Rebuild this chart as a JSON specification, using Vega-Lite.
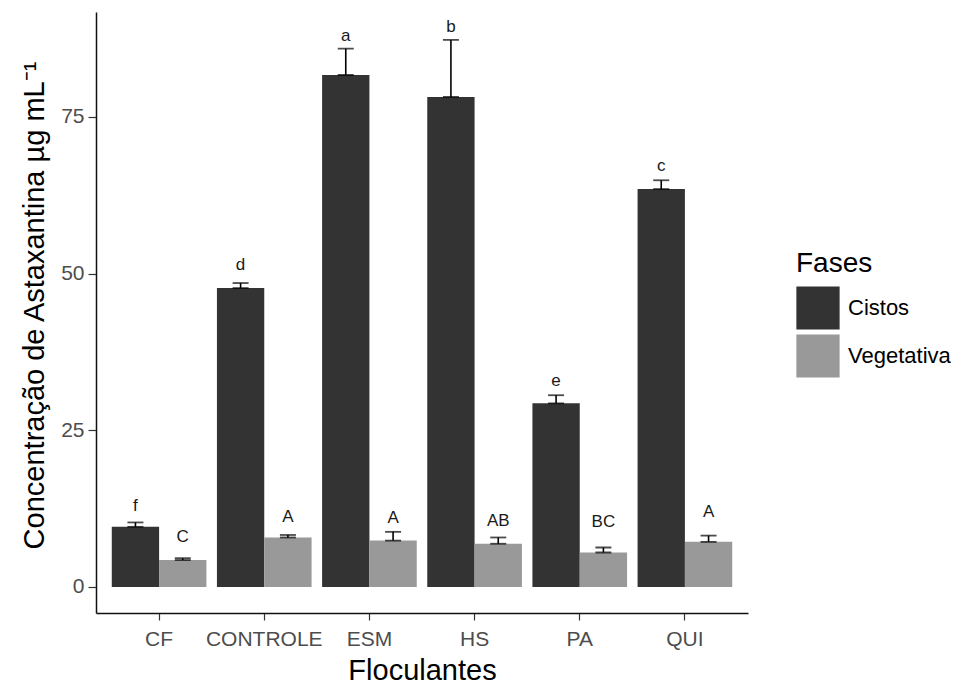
{
  "$schema": "https://vega.github.io/schema/vega-lite/v6.json",
  "width": 652,
  "height": 601,
  "autosize": {"type": "none"},
  "padding": {"left": 96, "top": 12, "right": 207, "bottom": 71},
  "background": "white",
  "config": {
    "view": {"stroke": null},
    "font": "Liberation Sans",
    "axis": {"grid": false, "labelFont": "Liberation Sans", "titleFont": "Liberation Sans"}
  },
  "data": {
    "values": [
      {"Floculante": "CF", "Fase": "Cistos", "Media": 9.6, "Topo": 10.3, "PosLetra": 12.1, "Letra": "f"},
      {"Floculante": "CF", "Fase": "Vegetativa", "Media": 4.3, "Topo": 4.6, "PosLetra": 7.1, "Letra": "C"},
      {"Floculante": "CONTROLE", "Fase": "Cistos", "Media": 47.7, "Topo": 48.5, "PosLetra": 50.6, "Letra": "d"},
      {"Floculante": "CONTROLE", "Fase": "Vegetativa", "Media": 7.9, "Topo": 8.3, "PosLetra": 10.4, "Letra": "A"},
      {"Floculante": "ESM", "Fase": "Cistos", "Media": 81.7, "Topo": 85.9, "PosLetra": 87.2, "Letra": "a"},
      {"Floculante": "ESM", "Fase": "Vegetativa", "Media": 7.4, "Topo": 8.8, "PosLetra": 10.2, "Letra": "A"},
      {"Floculante": "HS", "Fase": "Cistos", "Media": 78.2, "Topo": 87.3, "PosLetra": 88.6, "Letra": "b"},
      {"Floculante": "HS", "Fase": "Vegetativa", "Media": 6.9, "Topo": 7.9, "PosLetra": 9.8, "Letra": "AB"},
      {"Floculante": "PA", "Fase": "Cistos", "Media": 29.3, "Topo": 30.6, "PosLetra": 32.1, "Letra": "e"},
      {"Floculante": "PA", "Fase": "Vegetativa", "Media": 5.5, "Topo": 6.3, "PosLetra": 9.5, "Letra": "BC"},
      {"Floculante": "QUI", "Fase": "Cistos", "Media": 63.5, "Topo": 64.9, "PosLetra": 66.4, "Letra": "c"},
      {"Floculante": "QUI", "Fase": "Vegetativa", "Media": 7.2, "Topo": 8.2, "PosLetra": 11.2, "Letra": "A"}
    ]
  },
  "encoding": {
    "x": {
      "field": "Floculante",
      "type": "nominal",
      "sort": ["CF", "CONTROLE", "ESM", "HS", "PA", "QUI"],
      "scale": {"paddingInner": 0.1, "paddingOuter": 0.15},
      "title": "Floculantes",
      "axis": {
        "labelAngle": 0,
        "labelFontSize": 21,
        "labelColor": "#4D4D4D",
        "labelPadding": 8,
        "tickSize": 7,
        "tickColor": "#333333",
        "tickWidth": 1.2,
        "domainColor": "#111111",
        "domainWidth": 1.5,
        "titleFontSize": 29,
        "titleFontWeight": "normal",
        "titleColor": "#000000",
        "titleBaseline": "alphabetic",
        "titleY": 66
      }
    },
    "xOffset": {
      "field": "Fase",
      "type": "nominal",
      "sort": ["Cistos", "Vegetativa"],
      "scale": {"paddingInner": 0, "paddingOuter": 0}
    }
  },
  "layer": [
    {
      "mark": {"type": "bar"},
      "encoding": {
        "y": {
          "field": "Media",
          "type": "quantitative",
          "title": "Concentração de Astaxantina µg mL⁻¹",
          "scale": {"domain": [-4.15, 91.75], "nice": false, "zero": false},
          "axis": {
            "values": [0, 25, 50, 75],
            "labelFontSize": 21,
            "labelColor": "#4D4D4D",
            "labelPadding": 4,
            "tickSize": 8,
            "tickColor": "#333333",
            "tickWidth": 1.2,
            "domainColor": "#111111",
            "domainWidth": 1.5,
            "titleFontSize": 29,
            "titleFontWeight": "normal",
            "titleColor": "#000000",
            "titleBaseline": "alphabetic",
            "titleAngle": -90,
            "titleAlign": "center",
            "titleX": -53,
            "titleY": 293
          }
        },
        "y2": {"datum": 0},
        "color": {
          "field": "Fase",
          "type": "nominal",
          "scale": {"domain": ["Cistos", "Vegetativa"], "range": ["#333333", "#999999"]},
          "legend": {
            "orient": "none",
            "legendX": 700,
            "legendY": 238,
            "title": "Fases",
            "titleFontSize": 28,
            "titleFontWeight": "normal",
            "titleColor": "#000000",
            "titlePadding": 8,
            "labelFontSize": 22,
            "labelColor": "#000000",
            "labelOffset": 8,
            "symbolType": "square",
            "symbolSize": 1870,
            "symbolStrokeWidth": 0,
            "symbolOpacity": 1,
            "rowPadding": 4
          }
        }
      }
    },
    {
      "mark": {"type": "rule", "color": "#000000", "strokeWidth": 1.6},
      "encoding": {
        "y": {"field": "Media", "type": "quantitative", "title": "Concentração de Astaxantina µg mL⁻¹"},
        "y2": {"field": "Topo"}
      }
    },
    {
      "mark": {"type": "tick", "color": "#000000", "size": 16, "thickness": 1.8, "orient": "horizontal"},
      "encoding": {
        "y": {"field": "Topo", "type": "quantitative", "title": "Concentração de Astaxantina µg mL⁻¹"}
      }
    },
    {
      "mark": {"type": "tick", "color": "#000000", "size": 16, "thickness": 1.8, "orient": "horizontal"},
      "encoding": {
        "y": {"field": "Media", "type": "quantitative", "title": "Concentração de Astaxantina µg mL⁻¹"}
      }
    },
    {
      "mark": {"type": "text", "fontSize": 17, "color": "#1A1A1A", "baseline": "alphabetic", "align": "center"},
      "encoding": {
        "y": {"field": "PosLetra", "type": "quantitative", "title": "Concentração de Astaxantina µg mL⁻¹"},
        "text": {"field": "Letra", "type": "nominal"}
      }
    }
  ]
}
